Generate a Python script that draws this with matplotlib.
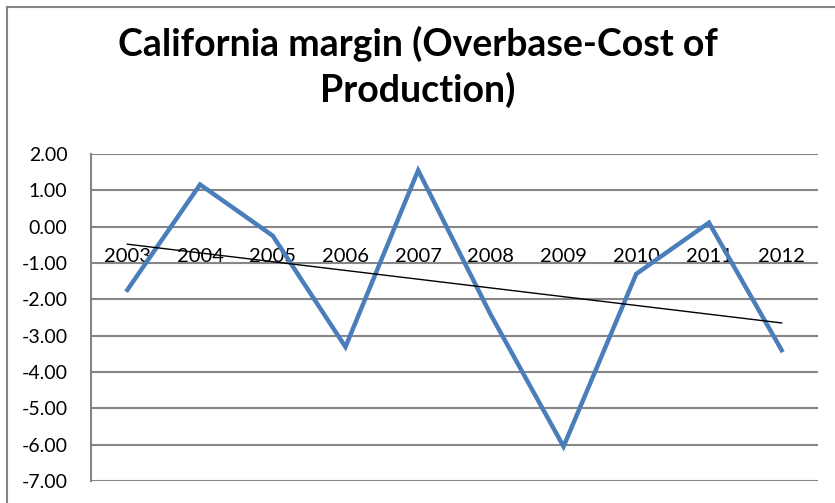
import matplotlib
matplotlib.use("Agg")
import matplotlib.pyplot as plt
import numpy as np
from matplotlib.lines import Line2D
import matplotlib.transforms as mtransforms

years = ["2003", "2004", "2005", "2006", "2007", "2008", "2009", "2010", "2011", "2012"]
margin = [-1.74, 1.16, -0.25, -3.31, 1.55, -2.43, -6.05, -1.30, 0.11, -3.40]
yticks = [2, 1, 0, -1, -2, -3, -4, -5, -6, -7]

W, H = 835, 503
fig = plt.figure(figsize=(W / 100, H / 100), dpi=100)
fig.patch.set_facecolor("white")

# outer chart border (top and left edges visible)
fig.add_artist(Line2D([6.5 / W, 1], [1 - 6.5 / H, 1 - 6.5 / H], transform=fig.transFigure,
                      color="#868686", linewidth=1.5))
fig.add_artist(Line2D([6.5 / W, 6.5 / W], [0, 1 - 6.5 / H], transform=fig.transFigure,
                      color="#868686", linewidth=1.5))

ax = fig.add_axes([91 / W, 1 - 481 / H, 727 / W, 327 / H])
x = np.arange(len(years))
ax.set_xlim(-0.5, len(years) - 0.5)
ax.set_ylim(-7, 2)
ax.set_yticks(yticks)
ax.set_yticklabels([f"{v:.2f}" for v in yticks], fontsize=14, family="Lato")
ax.tick_params(axis="y", length=0, pad=17)
ax.set_xticks([])
ax.grid(axis="y", color="#868686", linewidth=1.5)
ax.set_axisbelow(True)
for s in ["top", "right", "bottom"]:
    ax.spines[s].set_visible(False)
ax.spines["left"].set_color("#868686")
ax.spines["left"].set_linewidth(1.5)

ax.plot(x, margin, color="#4A7EBB", linewidth=3.2, solid_joinstyle="miter", zorder=3)
coef = np.polyfit(x, margin, 1)
ax.plot(x, np.polyval(coef, x), color="black", linewidth=1.0, zorder=4)

off = mtransforms.offset_copy(ax.transData, fig=fig, x=0, y=-30, units="dots")
for xi, lab in zip(x, years):
    ax.text(xi, 0, lab, transform=off, ha="center", va="center", fontsize=14.5, family="Lato", zorder=2)

fig.text(0.5, 1 - 67 / H, "California margin (Overbase-Cost of\nProduction)", ha="center", va="center",
         fontsize=27, fontweight="bold", family="Lato", linespacing=1.3)

fig.savefig("out.png", dpi=100)
